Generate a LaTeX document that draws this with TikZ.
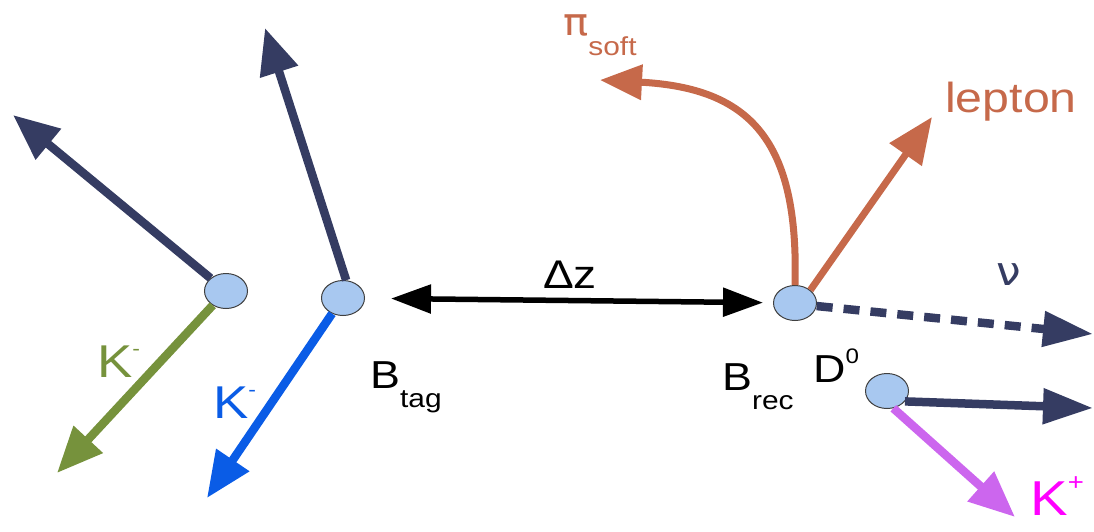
\documentclass[tikz,border=0pt]{standalone}
\usepackage{fontspec}
\setmainfont[FakeStretch=1.15]{Liberation Sans}
\newfontfamily\greekfont[FakeStretch=1.1]{DejaVu Sans}
\usetikzlibrary{arrows.meta,shapes.geometric}
\definecolor{navy}{HTML}{353C62}
\definecolor{rust}{HTML}{C6694A}
\definecolor{olive}{HTML}{76923C}
\definecolor{kblue}{HTML}{0A5CE6}
\definecolor{violet}{HTML}{CC66EE}
\definecolor{kmag}{HTML}{FF00FF}
\definecolor{vfill}{HTML}{A8C8F0}
\newcommand{\fs}[1]{\fontsize{#1}{#1}\selectfont}
\begin{document}
\begin{tikzpicture}[x=1pt,y=-1pt,
  vtx/.style={ellipse, draw=black!75, line width=1pt, fill=vfill, minimum width=43pt, minimum height=35pt, inner sep=0pt},
  trk/.style={line width=8.5pt, -{Triangle[length=46pt,width=38pt]}},
  lbl/.style={inner sep=0pt, anchor=base west}]
\useasboundingbox (0,0) rectangle (1094,531);
% vertices
\node[vtx] (vA) at (226,291) {};
\node[vtx] (vB) at (343,298) {};
\node[vtx] (vR) at (795,303) {};
\node[vtx] (vD) at (887,391) {};
% free ends
\coordinate (tA1) at (13,115);
\coordinate (tA2) at (57,473);
\coordinate (tB1) at (265,28);
\coordinate (tB2) at (207,498);
\coordinate (tPi) at (600,80);
\coordinate (tLep) at (932,117);
\coordinate (tNu) at (1093,334);
\coordinate (tD1) at (1093,408);
\coordinate (tD2) at (1015,517);
% tracks
\draw[trk, navy] (vA) -- (tA1);
\draw[trk, olive] (vA) -- (tA2);
\draw[trk, navy] (vB.80) -- (tB1);
\draw[trk, kblue] (vB.235) -- (tB2);
\draw[line width=5.5pt, {Triangle[length=40pt,width=28pt]}-{Triangle[length=40pt,width=28pt]}, shorten <=26pt, shorten >=10pt] (vB) -- (vR);
\draw[line width=7pt, rust, -{Triangle[length=42pt,width=34pt]}] (vR.north) .. controls (799,140) and (750,88) .. (tPi);
\draw[trk, rust, line width=7pt] (vR.40) -- (tLep);
\draw[trk, navy, dash pattern=on 16pt off 11pt, -{Triangle[length=50pt,width=34pt]}] (vR.-8) -- (tNu);
\draw[trk, navy, -{Triangle[length=50pt,width=34pt]}] (vD.-30) -- (tD1);
\draw[trk, violet] (vD.-70) -- (tD2);
% labels
\node[lbl, text=olive, font=\fs{46}] (lK1) at (97,377) {K\raisebox{22pt}{\fs{20}-}};
\node[lbl, text=kblue, font=\fs{46}] (lK2) at (213,418) {K\raisebox{22pt}{\fs{20}-}};
\node[lbl, font=\fs{39}] (lBt) at (370,388) {B\raisebox{-19pt}{\fs{26}tag}};
\node[lbl, font=\fs{40}] (lDz) at (543,288) {Δz};
\node[lbl, text=rust, font=\fs{38}] (lPi) at (563,35) {{\greekfont π}\raisebox{-20pt}{\fs{26}soft}};
\node[lbl, text=rust, font=\fs{42}] (lLep) at (945,112) {lepton};
\node[lbl, text=navy, font=\fs{40}] (lNu) at (996,285) {{\greekfont ν}};
\node[lbl, font=\fs{39}] (lBr) at (722,390) {B\raisebox{-19pt}{\fs{26}rec}};
\node[lbl, font=\fs{39}] (lD0) at (813,382) {D\raisebox{19pt}{\fs{21}0}};
\node[lbl, text=kmag, font=\fs{49}] (lKp) at (1030,515) {K\raisebox{25pt}{\fs{24}+}};
\end{tikzpicture}
\end{document}
